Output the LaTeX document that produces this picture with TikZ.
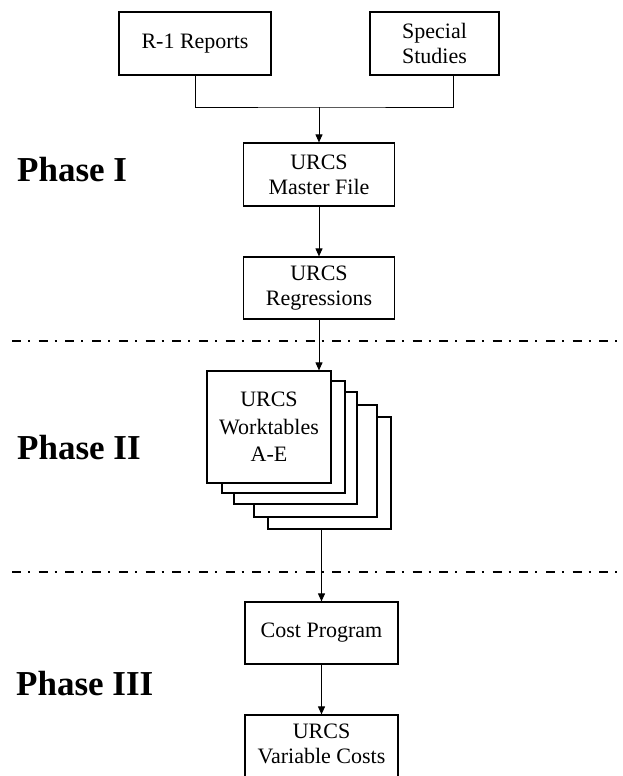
\documentclass[tikz,border=0pt]{standalone}
\usepackage{fontspec}
\setmainfont{Liberation Serif}
\usetikzlibrary{arrows.meta}
\tikzset{
  box/.style={draw, line width=1.2pt, fill=white, align=center, inner sep=0pt,
    font=\fontsize{22}{25}\selectfont},
  conn/.style={line width=1pt},
  arr/.style={line width=1pt, -{Triangle[length=8pt,width=7pt]}},
  phase/.style={font=\bfseries\fontsize{35}{40}\selectfont, anchor=base west, inner sep=0pt},
  sep/.style={line width=2.8pt, dash pattern=on 9pt off 7pt on 2pt off 8.7pt}
}
\begin{document}
\begin{tikzpicture}[x=1pt,y=-1pt]
\useasboundingbox (0,0) rectangle (623,776);
% top sources
\node[box, minimum width=152pt, minimum height=63pt] (r1) at (195,43.5) {R-1 Reports};
\node[box, minimum width=129pt, minimum height=63pt] (ss) at (434.5,43.5) {Special\\Studies};
\node[box, minimum width=151pt, minimum height=63pt] (mf) at (319,174.5) {URCS\\Master File};
\node[box, minimum width=151pt, minimum height=62pt] (rg) at (319,288) {URCS\\Regressions};
% worktable stack
\node[box, minimum width=123pt, minimum height=112pt] (wt5) at (329.5,473) {};
\node[box, minimum width=123pt, minimum height=112pt] (wt4) at (315.5,461) {};
\node[box, minimum width=123pt, minimum height=112pt] (wt3) at (295.5,448) {};
\node[box, minimum width=123pt, minimum height=112pt] (wt2) at (283.5,437) {};
\node[box, minimum width=124pt, minimum height=112pt, font=\fontsize{22}{27.5}\selectfont] (wt1) at (269,427) {URCS\\Worktables\\A-E};
% phase III boxes
\node[box, minimum width=153pt, minimum height=62pt] (cp) at (321.5,633) {Cost Program};
\node[box, minimum width=153pt, minimum height=75pt] (vc) at (321.5,752.5) {};
\node[font=\fontsize{22}{25}\selectfont, align=center, anchor=north, inner sep=0pt] (vct) at (321.5,724) {URCS\\Variable Costs};
% connectors
\coordinate (j) at (319,107);
\draw[conn] (r1.south) |- (j) -| ([xshift=18.5pt]ss.south);
\draw[arr] (j) -- (mf.north);
\draw[arr] (mf.south) -- (rg.north);
\draw[arr] (rg.south) -- (rg.south |- wt1.north);
\draw[arr] ([xshift=-8pt]wt5.south) -- ([xshift=-8pt]wt5.south |- cp.north);
\draw[arr] (cp.south) -- (vc.north);
% separators
\coordinate (s1a) at (12,341); \coordinate (s1b) at (623,341);
\coordinate (s2a) at (12,572); \coordinate (s2b) at (623,572);
\draw[sep] (s1a) -- (s1b);
\draw[sep] (s2a) -- (s2b);
% phase labels
\node[phase] (p1) at (17,181) {Phase I};
\node[phase] (p2) at (17,459) {Phase II};
\node[phase] (p3) at (16,695) {Phase III};
\end{tikzpicture}
\end{document}
